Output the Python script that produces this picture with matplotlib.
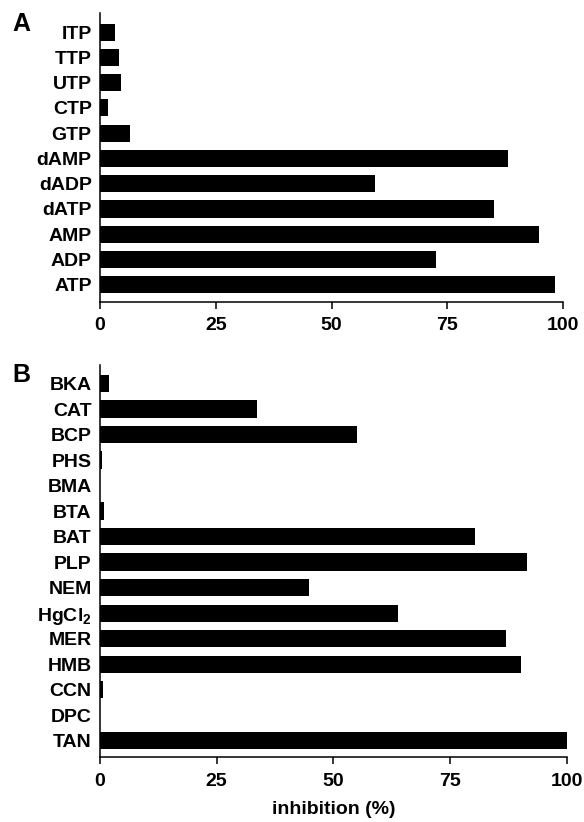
import matplotlib.pyplot as plt

plt.rcParams['font.family'] = ['Liberation Sans', 'DejaVu Sans']
plt.rcParams['font.weight'] = 'bold'
plt.rcParams['mathtext.fontset'] = 'custom'
plt.rcParams['mathtext.rm'] = 'Liberation Sans:bold'
plt.rcParams['mathtext.default'] = 'rm'

# panel A: nucleotides (top to bottom)
labels_a = ['ITP', 'TTP', 'UTP', 'CTP', 'GTP', 'dAMP', 'dADP', 'dATP', 'AMP', 'ADP', 'ATP']
values_a = [3.2, 4.2, 4.5, 1.8, 6.5, 88.1, 59.4, 85.1, 94.8, 72.5, 98.1]

# panel B: inhibitors (top to bottom)
labels_b = ['BKA', 'CAT', 'BCP', 'PHS', 'BMA', 'BTA', 'BAT', 'PLP', 'NEM',
            r'HgCl$_2$', 'MER', 'HMB', 'CCN', 'DPC', 'TAN']
values_b = [1.9, 33.6, 55.1, 0.35, 0.0, 0.85, 80.4, 91.6, 44.8, 63.9, 87.1, 90.2, 0.64, 0.0, 100.0]

xticks = [0, 25, 50, 75, 100]

fig = plt.figure(figsize=(5.84, 8.22), dpi=100)
ax1 = fig.add_axes([0.1712, 0.633, 0.7934, 0.351])
ax2 = fig.add_axes([0.1712, 0.0787, 0.799, 0.477])


def style(ax, labels, values, ylim):
    ax.barh(range(len(values)), values, height=0.68, color='black')
    ax.set_yticks(range(len(labels)))
    ax.set_yticklabels(labels)
    ax.set_ylim(*ylim)
    ax.set_xlim(0, 100)
    ax.set_xticks(xticks)
    for s in ['top', 'right']:
        ax.spines[s].set_visible(False)
    for s in ['left', 'bottom']:
        ax.spines[s].set_linewidth(1.1)
    ax.tick_params(axis='y', length=0, pad=6, labelsize=14)
    ax.tick_params(axis='x', length=5, width=1.1, pad=6, labelsize=14)


style(ax1, labels_a, values_a, (10.67, -0.75))
style(ax2, labels_b, values_b, (14.65, -0.72))

ax2.set_xlabel('inhibition (%)', fontsize=14, fontweight='bold', labelpad=8)

fig.text(21 / 584, 1 - 24 / 822, 'A', fontsize=18, fontweight='bold', ha='center', va='center')
fig.text(21 / 584, 1 - 375 / 822, 'B', fontsize=18, fontweight='bold', ha='center', va='center')

fig.savefig('out.png', dpi=100)
